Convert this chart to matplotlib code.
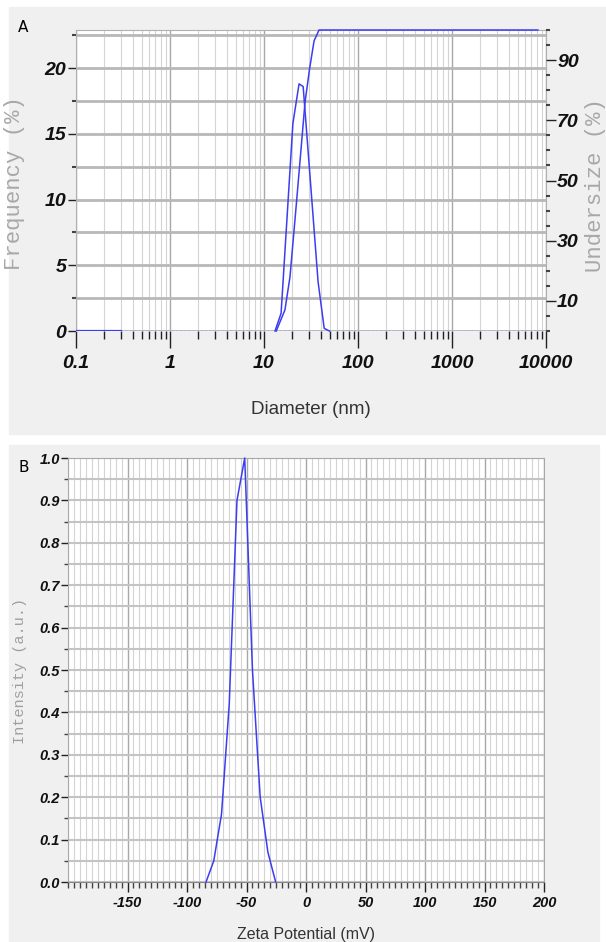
import numpy as np
import matplotlib
matplotlib.use("Agg")
import matplotlib.pyplot as plt
from matplotlib.ticker import LogLocator, MultipleLocator, NullFormatter
from matplotlib.patches import Rectangle

# --- panel A: size distribution ---
freq_d = [13.1, 15.2, 20.3, 23.6, 26.1, 37.6, 43.7, 49.6]
freq_v = [0, 1.35, 15.8, 18.8, 18.6, 3.75, 0.2, 0]
base_d = [0.1, 0.3]
base_v = [0, 0]
cum_d = [13.5, 16.7, 18.9, 22.3, 27.3, 30.5, 34.1, 38.5, 8200]
cum_v = [0, 7, 18, 43.7, 75.9, 87, 96.4, 100, 100]
d_ticks = [0.1, 1, 10, 100, 1000, 10000]
d_labels = ["0.1", "1", "10", "100", "1000", "10000"]
freq_ticks = [0, 5, 10, 15, 20]
under_ticks = [10, 30, 50, 70, 90]

# --- panel B: zeta potential ---
zeta_x = [-84, -77.5, -71, -64.5, -58, -51.5, -45, -38.5, -32, -25.5]
zeta_y = [0, 0.05, 0.16, 0.42, 0.9, 1.0, 0.5, 0.2, 0.07, 0]
zeta_ticks = [-150, -100, -50, 0, 50, 100, 150, 200]
zeta_labels = ["-150", "-100", "-50", "0", "50", "100", "150", "200"]
int_ticks = [0.0, 0.1, 0.2, 0.3, 0.4, 0.5, 0.6, 0.7, 0.8, 0.9, 1.0]

W, H = 606, 942
blue = "#3c3cf0"
sans = ["Liberation Sans", "DejaVu Sans"]
mono = ["Liberation Mono", "DejaVu Sans Mono"]


def box(x, y, w, h):
    # pixel box (top-left origin) -> figure fraction
    return [x / W, 1 - (y + h) / H, w / W, h / H]


fig = plt.figure(figsize=(W / 100, H / 100), dpi=100)
fig.add_artist(Rectangle(box(9, 7, 597, 427)[:2], 597 / W, 427 / H,
                         transform=fig.transFigure, color="#f0f0f0", zorder=0))
fig.add_artist(Rectangle(box(9, 445, 590, 497)[:2], 590 / W, 497 / H,
                         transform=fig.transFigure, color="#f0f0f0", zorder=0))

# ---------------- panel A ----------------
axA = fig.add_axes(box(76, 30, 470, 301))
axA.set_xscale("log")
axA.set_xlim(0.1, 10000)
axA.set_ylim(0, 22.9)
axA.set_xticks(d_ticks)
axA.set_xticklabels(d_labels)
axA.xaxis.set_minor_locator(LogLocator(base=10, subs=np.arange(2, 10)))
axA.xaxis.set_minor_formatter(NullFormatter())
axA.set_yticks(freq_ticks)
axA.yaxis.set_minor_locator(MultipleLocator(2.5))
axA.grid(which="major", axis="x", color="#a8a8a8", lw=1)
axA.grid(which="minor", axis="x", color="#d4d4d4", lw=0.8)
axA.grid(which="both", axis="y", color="#b8b8b8", lw=2)
axA.set_axisbelow(True)
axA.tick_params(axis="x", which="major", length=12, width=1, color="#222222", pad=5)
axA.tick_params(axis="x", which="minor", length=6, width=1, color="#222222")
axA.tick_params(axis="y", which="major", length=6, width=1, color="#222222", pad=1)
axA.tick_params(axis="y", which="minor", length=3, width=1.5, color="#444444")
for s in axA.spines.values():
    s.set_color("#b0b0b0")
axA.spines["bottom"].set_visible(False)
axA.axhline(0, color="#a8b0e0", lw=1.2, ls=(0, (1, 1.5)), zorder=1)

axA.plot(base_d, base_v, color=blue, lw=1.6, zorder=3)
axA.plot(freq_d, freq_v, color=blue, lw=1.1, zorder=3, clip_on=False)

axR = axA.twinx()
axR.set_ylim(0, 100)
axR.set_yticks(under_ticks)
axR.yaxis.set_minor_locator(MultipleLocator(5))
axR.tick_params(axis="y", which="major", length=7, width=1, color="#222222", pad=1)
axR.tick_params(axis="y", which="minor", length=3, width=1.5, color="#444444")
for s in axR.spines.values():
    s.set_visible(False)
axR.plot(cum_d, cum_v, color=blue, lw=1.1, zorder=3, clip_on=False)

for lbl in axA.get_xticklabels() + axA.get_yticklabels() + axR.get_yticklabels():
    lbl.set_family(sans)
    lbl.set_weight("bold")
    lbl.set_style("italic")
    lbl.set_size(14)
    lbl.set_color("#111111")

fig.text(311 / W, 1 - 410 / H, "Diameter (nm)", family=sans, size=13.5,
         color="#333333", ha="center", va="center")
fig.text(15 / W, 1 - 183 / H, "Frequency (%)", family=mono, size=16,
         color="#a8a8a8", rotation=90, ha="center", va="center")
fig.text(596 / W, 1 - 185 / H, "Undersize (%)", family=mono, size=16,
         color="#a8a8a8", rotation=90, ha="center", va="center")
fig.text(23 / W, 1 - 28 / H, "A", size=11, ha="center", va="center")

# ---------------- panel B ----------------
axB = fig.add_axes(box(68, 458, 476, 424))
axB.set_xlim(-200, 200)
axB.set_ylim(0, 1.0)
axB.set_xticks(zeta_ticks)
axB.set_xticklabels(zeta_labels)
axB.xaxis.set_minor_locator(MultipleLocator(5))
axB.set_yticks(int_ticks)
axB.set_yticklabels(["%.1f" % v for v in int_ticks])
axB.yaxis.set_minor_locator(MultipleLocator(0.05))
axB.grid(which="minor", axis="x", color="#d4d4d4", lw=0.8)
axB.grid(which="major", axis="x", color="#a8a8a8", lw=1)
axB.grid(which="both", axis="y", color="#c4c4c4", lw=1.5)
axB.set_axisbelow(True)
axB.tick_params(axis="x", which="major", length=7, width=1, color="#222222", pad=3)
axB.tick_params(axis="x", which="minor", length=4, width=1, color="#444444")
axB.tick_params(axis="y", which="major", length=5, width=1, color="#222222", pad=1)
axB.tick_params(axis="y", which="minor", length=3, width=1, color="#444444")
for s in axB.spines.values():
    s.set_color("#a8a8a8")
axB.spines["bottom"].set_color("#888888")

axB.plot(zeta_x, zeta_y, color=blue, lw=1.1, zorder=3, clip_on=False)

for lbl in axB.get_xticklabels() + axB.get_yticklabels():
    lbl.set_family(sans)
    lbl.set_weight("bold")
    lbl.set_style("italic")
    lbl.set_size(10.5)
    lbl.set_color("#111111")

fig.text(306 / W, 1 - 934 / H, "Zeta Potential (mV)", family=sans,
         size=11.5, color="#333333", ha="center", va="center")
fig.text(20 / W, 1 - 671 / H, "Intensity (a.u.)", family=mono, size=11,
         color="#a0a0a0", rotation=90, ha="center", va="center")
fig.text(24 / W, 1 - 467 / H, "B", size=11, ha="center", va="center")

fig.savefig("out.png", dpi=100)
